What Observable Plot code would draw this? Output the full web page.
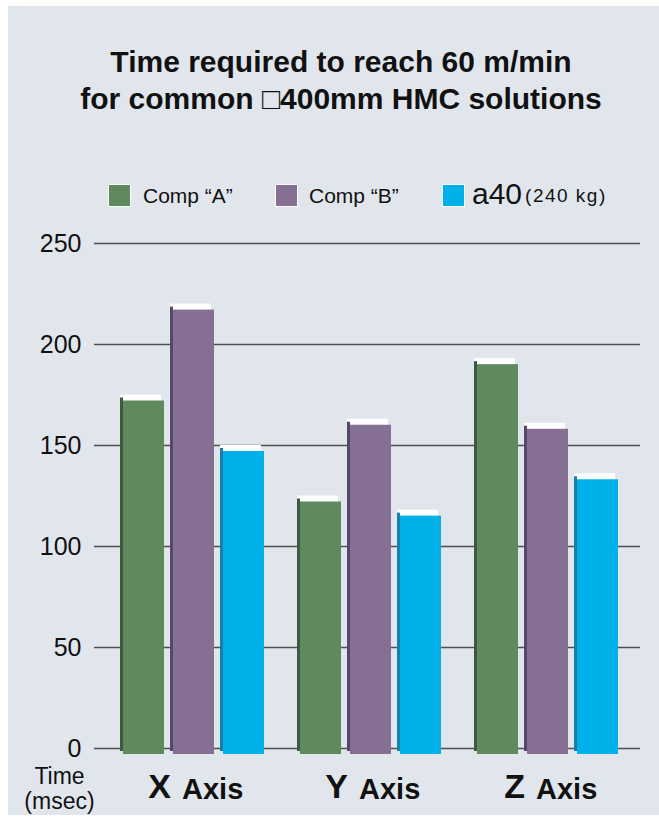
<!DOCTYPE html>
<html><head><meta charset="utf-8">
<script src="https://cdn.jsdelivr.net/npm/d3@7"></script>
<script src="https://cdn.jsdelivr.net/npm/@observablehq/plot@0.6"></script>
<style>
body{margin:0;background:#fff;width:659px;height:819px;position:relative;overflow:hidden;font-family:"Liberation Sans",Arial,sans-serif;color:#111;}
#panel{position:absolute;left:8px;top:6px;width:651px;height:809px;background:#e1e6ed;}
#title{position:absolute;left:0;top:43px;width:682px;text-align:center;font-weight:bold;font-size:30px;line-height:37px;}
.sw{position:absolute;top:184px;width:23px;height:23px;box-sizing:border-box;border:1px solid #fff;}
.lt{position:absolute;top:182px;line-height:28px;font-size:21px;white-space:nowrap;}
#chart{position:absolute;left:0;top:215px;}
</style></head>
<body>
<div id="panel"></div>
<div id="title">Time required to reach 60 m/min<br>for common □400mm HMC solutions</div>
<div id="legend"></div>
<div id="chart"></div>
<script>
const categories = ["X Axis", "Y Axis", "Z Axis"];
const seriesNames = ["Comp “A”", "Comp “B”", "a40"];
const seriesNote = "(240 kg)";
const compA = [175, 125, 193];
const compB = [220, 163, 161];
const a40 = [150, 118, 136];
const yTicks = [0, 50, 100, 150, 200, 250];
const yLabel = "Time\n(msec)";

const front = ["#5f8a5d", "#856f93", "#00b1e9"];
const side = ["#3d5a40", "#55486a", "#1b7ea6"];
const values = [compA, compB, a40];

// legend
const legend = document.getElementById("legend");
const swX = [108, 275, 442], txX = [143, 309, 472];
seriesNames.forEach((s, i) => {
  const sw = document.createElement("div");
  sw.className = "sw"; sw.style.left = swX[i] + "px"; sw.style.background = front[i];
  legend.appendChild(sw);
  const t = document.createElement("div");
  t.className = "lt"; t.style.left = txX[i] + "px";
  if (i === 2) {
    t.innerHTML = `<span style="font-size:30px;vertical-align:-2px">${s}</span><span style="font-size:19px;letter-spacing:1.5px;margin-left:3px">${seriesNote}</span>`;
    t.style.top = "180px";
  } else t.textContent = s;
  legend.appendChild(t);
});

const rows = values.map((vals) => categories.map((c, j) => ({category: c, value: vals[j]})));
const insets = [[0, 100], [50, 50], [100, 0]];

const marks = [Plot.ruleY(yTicks, {stroke: "#4f4f4f", strokeWidth: 1.5})];
rows.forEach((r, i) => {
  const [l, rr] = insets[i];
  marks.push(Plot.barY(r, {x: "category", y: "value", fill: "#ffffff", insetLeft: l, insetRight: rr}));
  marks.push(Plot.barY(r, {x: "category", y: "value", fill: side[i], insetLeft: l, insetRight: 141 - l - 3, dy: 3}));
  marks.push(Plot.barY(r, {x: "category", y: "value", fill: front[i], insetLeft: l, insetRight: rr, dx: 3, dy: 6}));
});
marks.push(Plot.axisY({ticks: yTicks, tickSize: 0, tickPadding: 13, fontSize: 25, label: null, fill: "#111"}));
marks.push(Plot.text(categories, {x: d => d, text: d => d.split(" ")[0], frameAnchor: "bottom", dy: 39, dx: -20, textAnchor: "end", lineAnchor: "middle", fontSize: 34, fontWeight: "bold", fill: "#111"}));
marks.push(Plot.text(categories, {x: d => d, text: d => d.split(" ")[1], frameAnchor: "bottom", dy: 41, dx: -9, textAnchor: "start", lineAnchor: "middle", fontSize: 29, fontWeight: "bold", fill: "#111"}));
marks.push(Plot.text([yLabel], {frameAnchor: "bottom-left", dx: -35, dy: 40, textAnchor: "middle", lineAnchor: "middle", fontSize: 23, lineHeight: 1.1, fill: "#111"}));

const plot = Plot.plot({
  width: 659, height: 604,
  marginTop: 28, marginBottom: 71, marginLeft: 94, marginRight: 19,
  style: {background: "none", overflow: "visible", fontFamily: "Liberation Sans, Arial, sans-serif", fontSize: "19px"},
  x: {type: "band", domain: categories, paddingInner: 0.2056, paddingOuter: 0.1408, axis: null},
  y: {domain: [0, 250], axis: null},
  marks
});
document.getElementById("chart").appendChild(plot);
</script>
</body></html>
